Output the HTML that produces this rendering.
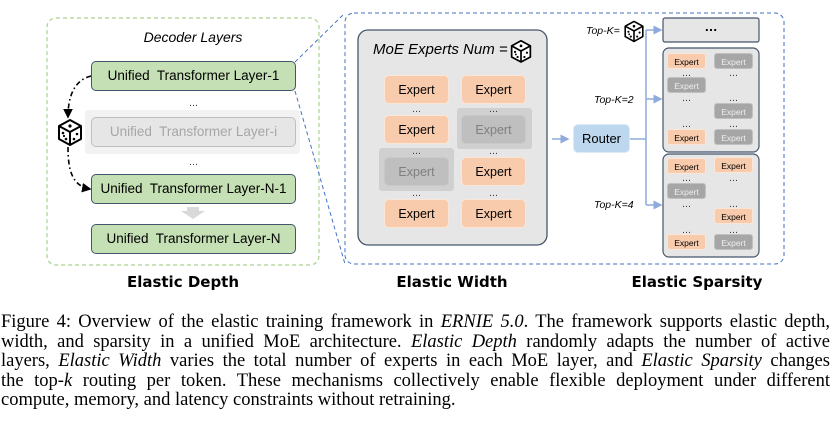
<!DOCTYPE html>
<html><head><meta charset="utf-8"><style>
body{margin:0;width:834px;height:426px;background:#fff;position:relative;overflow:hidden;font-family:"DejaVu Sans","Liberation Sans",sans-serif;}
.a{position:absolute;box-sizing:border-box;}
.lay{background:#c5e0b4;border:1.3px solid #44546a;border-radius:5px;font-size:13.5px;color:#000;text-align:center;line-height:28px;font-family:"Liberation Sans",sans-serif;}
.ex{background:#f8cbad;border:1px solid #fbe5d6;border-radius:5px;font-size:12.5px;text-align:center;line-height:28px;font-family:"Liberation Sans",sans-serif;}
.exg{background:#bfbfbf;color:#7f7f7f;}
.se{width:39px;height:16px;border-radius:3px;font-size:8.5px;line-height:16px;text-align:center;font-family:"Liberation Sans",sans-serif;background:#f8cbad;border:1px solid #fbe5d6;}
.sg{background:#a6a6a6;color:#eee;border-color:#c0c0c0;}
.d{font-size:9px;line-height:6px;color:#333;text-align:center;}
.it{font-style:italic;font-family:"Liberation Sans",sans-serif;}
.lbl{font-weight:bold;font-size:15px;font-family:"DejaVu Sans",sans-serif;text-align:center;}
.cap{position:absolute;left:1px;width:829px;font-family:"Liberation Serif",serif;font-size:18.5px;line-height:19.5px;text-align:justify;text-align-last:justify;white-space:nowrap;}
</style></head><body>
<svg class="a" style="left:0;top:0" width="834" height="300">
<defs>
<g id="dice">
<path d="M0,-12 L11,-6 L11,7 L0,13 L-11,7 L-11,-6 Z" fill="#fff" stroke="#000" stroke-width="2" stroke-linejoin="round"/>
<path d="M-11,-6 L0,0 L11,-6 M0,0 L0,13" fill="none" stroke="#000" stroke-width="2"/>
<circle cx="0" cy="-6" r="1.6"/><circle cx="-7" cy="1" r="1.3"/><circle cx="-4" cy="7" r="1.3"/><circle cx="-6" cy="4" r="1.1"/><circle cx="7" cy="2" r="1.3"/><circle cx="4" cy="7" r="1.3"/>
</g>
<marker id="ah" markerWidth="6" markerHeight="6" refX="5" refY="3" orient="auto"><path d="M0,0 L6,3 L0,6 Z" fill="#000"/></marker>
<marker id="bh" markerWidth="6" markerHeight="6" refX="5" refY="3" orient="auto"><path d="M0,0 L6,3 L0,6 Z" fill="#8faadc"/></marker>
</defs>
<rect x="47" y="18" width="272" height="247" rx="9" fill="none" stroke="#a9d18e" stroke-width="1.2" stroke-dasharray="4,3"/>
<rect x="345" y="13" width="439" height="251" rx="9" fill="none" stroke="#4472c4" stroke-width="1" stroke-dasharray="4,3"/>
<line x1="295" y1="62" x2="345" y2="13" stroke="#4472c4" stroke-width="1" stroke-dasharray="4,3"/>
<line x1="295" y1="91" x2="345" y2="264" stroke="#4472c4" stroke-width="1" stroke-dasharray="4,3"/>
<rect x="85" y="110" width="215" height="44" rx="3" fill="#f2f2f2"/>
<path d="M91,76 C75,80 68,95 68,117" fill="none" stroke="#000" stroke-width="1.6" stroke-dasharray="5,3,1.5,3" marker-end="url(#ah)"/>
<path d="M68,147 C68,170 72,186 90,189" fill="none" stroke="#000" stroke-width="1.6" stroke-dasharray="5,3,1.5,3" marker-end="url(#ah)"/>
<use href="#dice" x="70" y="132"/>
<path d="M187,207 L199,207 L199,211 L205,211 L193,219 L181,211 L187,211 Z" fill="#d9d9d9"/>
<rect x="358" y="30" width="189" height="215" rx="10" fill="#e7e6e6" stroke="#44546a" stroke-width="1.3"/>
<rect x="457" y="108" width="75" height="41" rx="3" fill="#d0d0d0"/>
<rect x="379" y="148" width="75" height="43" rx="3" fill="#d0d0d0"/>
<use href="#dice" x="521" y="51" transform="translate(521 51) scale(0.85) translate(-521 -51)"/>
<line x1="552" y1="139" x2="568" y2="139" stroke="#8faadc" stroke-width="1.5" marker-end="url(#bh)"/>
<line x1="630" y1="139" x2="646" y2="139" stroke="#8faadc" stroke-width="1.5"/>
<line x1="646" y1="30" x2="646" y2="205" stroke="#8faadc" stroke-width="1.5"/>
<line x1="646" y1="30" x2="661" y2="30" stroke="#8faadc" stroke-width="1.5" marker-end="url(#bh)"/>
<line x1="646" y1="99" x2="661" y2="99" stroke="#8faadc" stroke-width="1.5" marker-end="url(#bh)"/>
<line x1="646" y1="205" x2="661" y2="205" stroke="#8faadc" stroke-width="1.5" marker-end="url(#bh)"/>
<use href="#dice" x="634" y="31" transform="translate(634 31) scale(0.8) translate(-634 -31)"/>
<rect x="663" y="18" width="96" height="24" rx="2" fill="#e7e6e6" stroke="#44546a" stroke-width="1.2"/>
<rect x="663" y="48" width="96" height="104" rx="6" fill="#e7e6e6" stroke="#44546a" stroke-width="1.2"/>
<rect x="663" y="154" width="96" height="103" rx="6" fill="#e7e6e6" stroke="#44546a" stroke-width="1.2"/>
</svg>

<div class="a it" style="left:90px;top:29px;width:206px;text-align:center;font-size:14px;">Decoder Layers</div>
<div class="a lay" style="left:91px;top:61px;width:205px;height:30px;">Unified&nbsp; Transformer Layer-1</div>
<div class="a d" style="left:91px;top:101px;width:205px;">…</div>
<div class="a lay" style="left:91px;top:117px;width:205px;height:30px;background:#e7e6e6;border-color:#bfbfbf;color:#a6a6a6;">Unified&nbsp; Transformer Layer-i</div>
<div class="a d" style="left:91px;top:160px;width:205px;">…</div>
<div class="a lay" style="left:91px;top:174px;width:205px;height:30px;">Unified&nbsp; Transformer Layer-N-1</div>
<div class="a lay" style="left:91px;top:224px;width:205px;height:30px;">Unified&nbsp; Transformer Layer-N</div>

<div class="a it" style="left:373px;top:41px;font-size:15px;">MoE Experts Num =</div>
<div class="a ex" style="left:384px;top:75px;width:65px;height:29px;">Expert</div>
<div class="a ex" style="left:461px;top:75px;width:65px;height:29px;">Expert</div>
<div class="a d" style="left:384px;top:107px;width:65px;">…</div>
<div class="a d" style="left:461px;top:107px;width:65px;">…</div>
<div class="a ex" style="left:384px;top:115px;width:65px;height:29px;">Expert</div>
<div class="a ex exg" style="left:461px;top:115px;width:65px;height:29px;border-color:#c8c8c8;">Expert</div>
<div class="a d" style="left:384px;top:149px;width:65px;">…</div>
<div class="a d" style="left:461px;top:149px;width:65px;">…</div>
<div class="a ex exg" style="left:384px;top:157px;width:65px;height:29px;border-color:#c8c8c8;">Expert</div>
<div class="a ex" style="left:461px;top:157px;width:65px;height:29px;">Expert</div>
<div class="a d" style="left:384px;top:191px;width:65px;">…</div>
<div class="a d" style="left:461px;top:191px;width:65px;">…</div>
<div class="a ex" style="left:384px;top:199px;width:65px;height:29px;">Expert</div>
<div class="a ex" style="left:461px;top:199px;width:65px;height:29px;">Expert</div>

<div class="a" style="left:573px;top:124px;width:57px;height:29px;background:#bdd7ee;border:1px solid #deebf7;border-radius:5px;font-size:13px;line-height:28px;text-align:center;font-family:'Liberation Sans',sans-serif;">Router</div>
<div class="a it" style="left:586px;top:25px;font-size:10.5px;">Top-K=</div>
<div class="a it" style="left:594px;top:94px;font-size:10.5px;">Top-K=2</div>
<div class="a it" style="left:594px;top:199px;font-size:10.5px;">Top-K=4</div>
<div class="a" style="left:663px;top:18px;width:96px;height:24px;line-height:20px;text-align:center;font-size:11px;font-weight:bold;">...</div>

<div class="a se" style="left:667px;top:53px;">Expert</div>
<div class="a se sg" style="left:714px;top:53px;">Expert</div>
<div class="a d" style="left:667px;top:71px;width:39px;">…</div><div class="a d" style="left:714px;top:71px;width:39px;">…</div>
<div class="a se sg" style="left:667px;top:77px;">Expert</div>
<div class="a d" style="left:667px;top:96px;width:39px;">…</div><div class="a d" style="left:714px;top:96px;width:39px;">…</div>
<div class="a se sg" style="left:714px;top:103px;">Expert</div>
<div class="a d" style="left:667px;top:122px;width:39px;">…</div><div class="a d" style="left:714px;top:122px;width:39px;">…</div>
<div class="a se" style="left:667px;top:129px;">Expert</div>
<div class="a se sg" style="left:714px;top:129px;">Expert</div>

<div class="a se" style="left:667px;top:158px;">Expert</div>
<div class="a se" style="left:714px;top:157px;">Expert</div>
<div class="a d" style="left:667px;top:176px;width:39px;">…</div><div class="a d" style="left:714px;top:176px;width:39px;">…</div>
<div class="a se sg" style="left:667px;top:183px;">Expert</div>
<div class="a d" style="left:667px;top:202px;width:39px;">…</div><div class="a d" style="left:714px;top:202px;width:39px;">…</div>
<div class="a se" style="left:714px;top:208px;">Expert</div>
<div class="a d" style="left:667px;top:228px;width:39px;">…</div><div class="a d" style="left:714px;top:228px;width:39px;">…</div>
<div class="a se" style="left:667px;top:234px;">Expert</div>
<div class="a se sg" style="left:714px;top:234px;">Expert</div>

<div class="a lbl" style="left:103px;top:273px;width:160px;">Elastic Depth</div>
<div class="a lbl" style="left:372px;top:273px;width:160px;">Elastic Width</div>
<div class="a lbl" style="left:617px;top:273px;width:160px;">Elastic Sparsity</div>

<div class="cap" style="top:313px;">Figure 4: Overview of the elastic training framework in <i>ERNIE 5.0</i>. The framework supports elastic depth,</div>
<div class="cap" style="top:332.5px;">width, and sparsity in a unified MoE architecture. <i>Elastic Depth</i> randomly adapts the number of active</div>
<div class="cap" style="top:352px;">layers, <i>Elastic Width</i> varies the total number of experts in each MoE layer, and <i>Elastic Sparsity</i> changes</div>
<div class="cap" style="top:371.5px;">the top-<i>k</i> routing per token. These mechanisms collectively enable flexible deployment under different</div>
<div class="cap" style="top:391px;text-align-last:left;">compute, memory, and latency constraints without retraining.</div>
</body></html>
